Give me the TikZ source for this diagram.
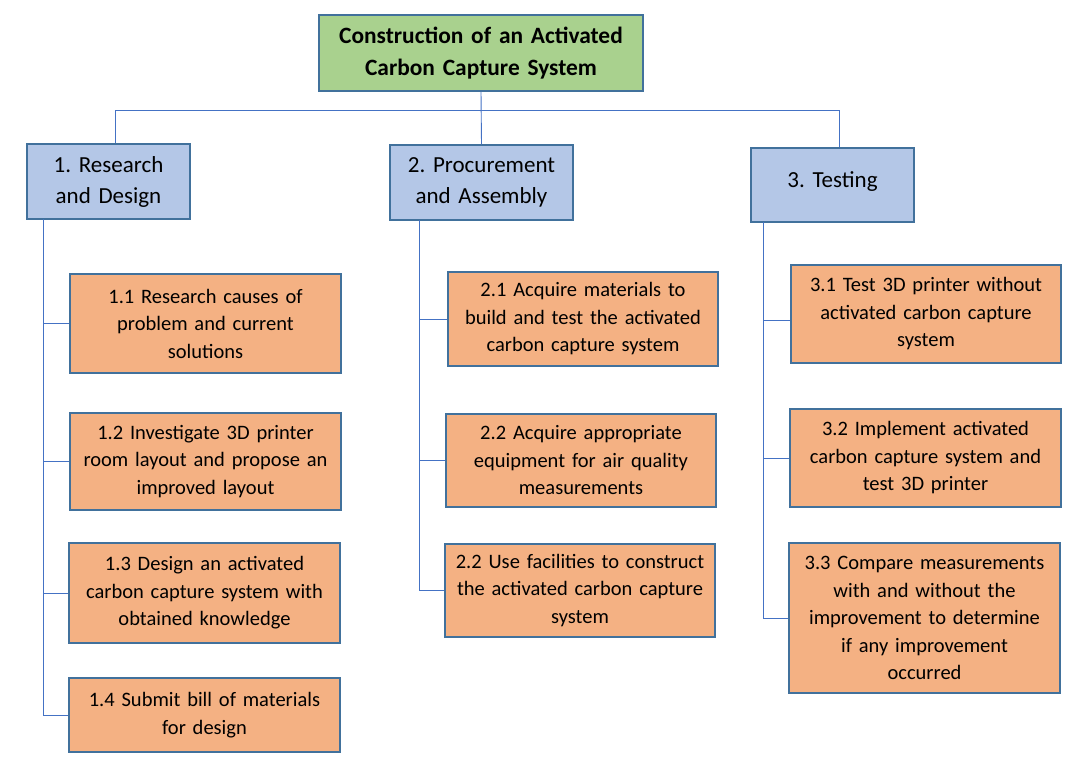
\documentclass[tikz,border=0pt]{standalone}
\usepackage{fontspec}
\setmainfont{Carlito}
\frenchspacing
\definecolor{topgreen}{HTML}{A9D18E}
\definecolor{midblue}{HTML}{B4C7E7}
\definecolor{suborange}{HTML}{F4B183}
\definecolor{boxedge}{HTML}{41719C}
\definecolor{linkblue}{HTML}{4472C4}
\tikzset{
  box/.style={draw=boxedge, line width=1.2pt, inner sep=0pt, align=center},
  topbox/.style={box, fill=topgreen, font=\fontsize{23.4}{32}\selectfont\bfseries},
  midbox/.style={box, fill=midblue, font=\fontsize{23}{31}\selectfont},
  subbox/.style={box, fill=suborange, font=\fontsize{20.5}{27.5}\selectfont},
  link/.style={draw=linkblue, line width=0.9pt}
}
% \bx{name}{style}{x1}{y1}{x2}{y2}{text}
\newcommand{\bx}[7]{%
  \pgfmathsetmacro{\bw}{#5-#3}\pgfmathsetmacro{\bh}{#6-#4}%
  \pgfmathsetmacro{\cx}{(#3+#5)/2}\pgfmathsetmacro{\cy}{(#4+#6)/2}%
  \node[#2, minimum width=\bw pt, minimum height=\bh pt, text width=\bw pt-6pt] (#1) at (\cx,\cy) {#7};}
\begin{document}
\begin{tikzpicture}[x=1pt,y=-1pt]
\useasboundingbox (0,0) rectangle (1080,765);
\bx{top}{topbox}{319}{15}{643}{91}{Construction of an Activated\\Carbon Capture System}
\bx{a}{midbox}{27}{144}{190}{219}{1. Research\\and Design}
\bx{b}{midbox}{390}{145}{573}{220}{2. Procurement\\and Assembly}
\bx{c}{midbox}{751}{148}{914}{222}{\raisebox{11pt}{3. Testing}}
\bx{a1}{subbox}{70}{274}{341}{373}{1.1 Research causes of\\problem and current\\solutions}
\bx{a2}{subbox}{70}{413}{341}{510}{1.2 Investigate 3D printer\\room layout and propose an\\improved layout}
\bx{a3}{subbox}{69}{543}{340}{643}{1.3 Design an activated\\carbon capture system with\\obtained knowledge}
\bx{a4}{subbox}{69}{678}{340}{752}{1.4 Submit bill of materials\\for design}
\bx{b1}{subbox}{448}{272}{718}{366}{2.1 Acquire materials to\\build and test the activated\\carbon capture system}
\bx{b2}{subbox}{446}{414}{716}{507}{2.2 Acquire appropriate\\equipment for air quality\\measurements}
\bx{b3}{subbox}{445}{544}{715}{637}{2.2 Use facilities to construct\\the activated carbon capture\\system}
\bx{c1}{subbox}{791}{265}{1061}{363}{3.1 Test 3D printer without\\activated carbon capture\\system}
\bx{c2}{subbox}{790}{409}{1061}{507}{3.2 Implement activated\\carbon capture system and\\test 3D printer}
\bx{c3}{subbox}{789}{543}{1060}{693}{3.3 Compare measurements\\with and without the\\improvement to determine\\if any improvement\\occurred}
% top connectors
\coordinate (busL) at (115,110);
\coordinate (busR) at (839,110);
\draw[link] (top.south) -- (b.north);
\draw[link] (busL |- a.north) -- (busL) -- (busR) -- (busR |- c.north);
% spines
\coordinate (sa) at (43,219);
\coordinate (sb) at (419,220);
\coordinate (sc) at (763,222);
\coordinate (c1in) at ([yshift=-6pt]c1.west);
\draw[link] (sa) |- (a4.west);
\foreach \n in {a1,a2,a3} \draw[link] (sa |- \n.west) -- (\n.west);
\draw[link] (sb) |- (b3.west);
\foreach \n in {b1,b2} \draw[link] (sb |- \n.west) -- (\n.west);
\draw[link] (sc) |- (c3.west);
\draw[link] (sc |- c1in) -- (c1in);
\draw[link] (sc |- c2.west) -- (c2.west);
\end{tikzpicture}
\end{document}
